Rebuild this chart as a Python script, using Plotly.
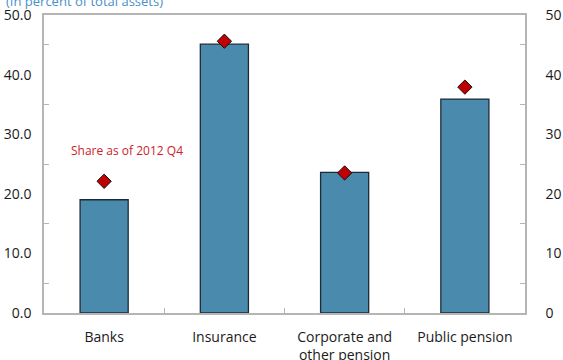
import plotly.graph_objects as go

categories = ["Banks", "Insurance", "Corporate and<br>other pension", "Public pension"]
current_share = [19.0, 45.1, 23.6, 35.9]
share_2012q4 = [22.1, 45.6, 23.5, 37.9]
left_ticks = [0, 10, 20, 30, 40, 50]
right_ticks = [0, 10, 20, 30, 40, 50]

FONT = "Open Sans"
FRAME = "#b5b5b5"
xs = list(range(len(categories)))

fig = go.Figure()
fig.add_trace(go.Bar(
    x=xs, y=current_share, width=0.4,
    marker=dict(color="#4a8aad", line=dict(color="#1e2a36", width=1.3)),
    showlegend=False,
))
fig.add_trace(go.Scatter(
    x=xs, y=share_2012q4, mode="markers",
    marker=dict(symbol="diamond", size=11, color="#c00000",
                line=dict(color="#111111", width=1)),
    showlegend=False,
))
# invisible trace to drive the right-hand axis
fig.add_trace(go.Scatter(x=[xs[0]], y=[0], yaxis="y2", mode="markers",
                         marker=dict(opacity=0), showlegend=False, hoverinfo="skip"))

minor_y = dict(tickvals=[5, 15, 25, 35, 45], ticks="inside", ticklen=5,
               tickcolor=FRAME, showgrid=False)

fig.update_layout(
    width=563, height=360,
    margin=dict(l=44, r=38, t=15, b=47, autoexpand=False),
    plot_bgcolor="white", paper_bgcolor="white",
    font=dict(family=FONT, size=14, color="#1a1a1a"),
    xaxis=dict(
        range=[-0.5, 3.5], tickvals=xs, ticktext=categories, ticks="",
        showline=True, linecolor=FRAME, linewidth=1.5, mirror=True,
        showgrid=False, zeroline=False, automargin=False, ticklabelstandoff=10,
        minor=dict(tickvals=[0.5, 1.5, 2.5], ticks="inside", ticklen=5,
                   tickcolor=FRAME, showgrid=False),
    ),
    yaxis=dict(
        range=[0, 50], tickvals=left_ticks,
        ticktext=[f"{v:.1f}" for v in left_ticks], ticks="",
        showline=True, linecolor=FRAME, linewidth=1.5, automargin=False,
        showgrid=False, zeroline=False, ticklabelstandoff=8, minor=minor_y,
    ),
    yaxis2=dict(
        range=[0, 50], overlaying="y", side="right", tickvals=right_ticks,
        ticktext=[str(v) for v in right_ticks], ticks="",
        showline=True, linecolor=FRAME, linewidth=1.5, automargin=False,
        showgrid=False, zeroline=False, ticklabelstandoff=16, minor=minor_y,
    ),
    annotations=[
        dict(x=0.19, y=27.3, xref="x", yref="y", text="Share as of 2012 Q4",
             showarrow=False, font=dict(family=FONT, size=12, color="#d0202a")),
        dict(x=0.0, y=1.0, xref="paper", yref="paper", xanchor="left", yanchor="bottom",
             xshift=-40, yshift=3, text="(In percent of total assets)", showarrow=False,
             font=dict(family=FONT, size=13, color="#4a90c8")),
    ],
)

fig.write_html("out.html")
